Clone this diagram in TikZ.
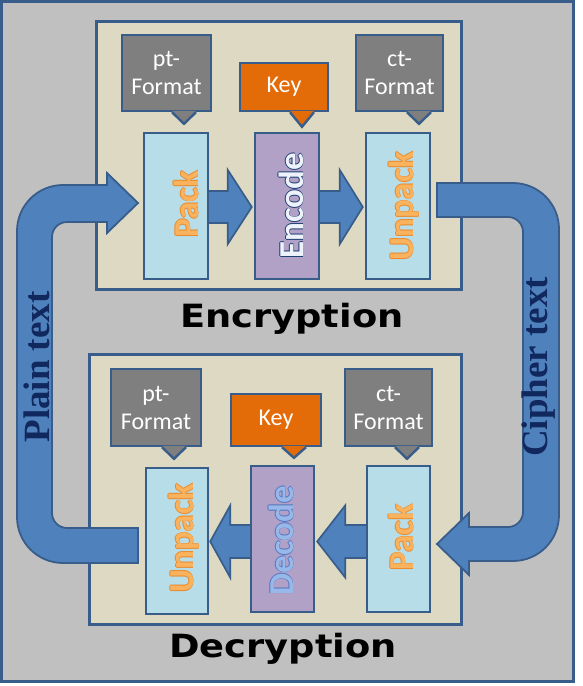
\documentclass[tikz,border=0pt]{standalone}
\usepackage{fontspec}
\usepackage{graphicx}
\setmainfont{Carlito}
\newfontfamily\titlefont{DejaVu Sans}
\newfontfamily\labfont{Liberation Serif}
\usetikzlibrary{calc}
\pgfdeclarelayer{back}
\pgfdeclarelayer{mid}
\pgfsetlayers{back,mid,main}

\definecolor{bgray}{HTML}{C0C0C0}
\definecolor{bline}{HTML}{385D8A}
\definecolor{tan}{HTML}{DDD9C3}
\definecolor{cgray}{HTML}{7F7F7F}
\definecolor{korange}{HTML}{E36C09}
\definecolor{lblue}{HTML}{B7DDE8}
\definecolor{purp}{HTML}{B2A1C7}
\definecolor{afill}{HTML}{4F81BD}
\definecolor{navy}{HTML}{10285E}
\definecolor{otxt}{HTML}{F9B25E}
\definecolor{otxtd}{HTML}{EA8A2C}
\definecolor{etxt}{HTML}{EEF3FB}
\definecolor{etxtd}{HTML}{1F3F74}
\definecolor{dtxt}{HTML}{98B8EA}
\definecolor{dtxtd}{HTML}{5277C0}

\newcommand\rarrow[5]{%
  \draw[barrow] let \p1=([yshift=#5]#1.east), \p2=(#2.west) in
   (\x1-4pt,\y1+16pt) -- (\x2-#4-#3,\y1+16pt) -- (\x2-#4-#3,\y1+37pt) --
   (\x2-#4,\y1) -- (\x2-#4-#3,\y1-37pt) -- (\x2-#4-#3,\y1-16pt) --
   (\x1-4pt,\y1-16pt) -- cycle;}
\newcommand\larrow[5]{%
  \draw[barrow] let \p1=([yshift=#5]#1.west), \p2=(#2.east) in
   (\x1+4pt,\y1+16.5pt) -- (\x2+#4+#3,\y1+16.5pt) -- (\x2+#4+#3,\y1+36pt) --
   (\x2+#4,\y1) -- (\x2+#4+#3,\y1-36pt) -- (\x2+#4+#3,\y1-16.5pt) --
   (\x1+4pt,\y1-16.5pt) -- cycle;}
\newcommand\callptr[3]{%
  \fill[#3] let \p1=(#1.south), \p2=#2 in
   (\x2-12pt,\y1+1.4pt) -- (\x2,\y2) -- (\x2+12pt,\y1+1.4pt) -- cycle;
  \draw[draw=bline, line width=2.4pt] let \p1=(#1.south), \p2=#2 in
   (\x2-12pt,\y1) -- (\x2,\y2) -- (\x2+12pt,\y1);}
\newcommand\vlabel[6]{%
  \node[vtext,text=#5] (#1a) at ($#2+(#6,0)$) {#3};
  \node[vtext,text=#5] (#1b) at ($#2+(-#6,0)$) {#3};
  \node[vtext,text=#5] (#1c) at ($#2+(0,#6)$) {#3};
  \node[vtext,text=#5] (#1d) at ($#2+(0,-#6)$) {#3};
  \node[vtext,text=#4] (#1) at #2 {#3};}

\begin{document}
\begin{tikzpicture}[x=1pt,y=-1pt,
  panel/.style={draw=bline, line width=2.7pt, fill=tan, inner sep=0pt},
  procbox/.style={draw=bline, line width=2.4pt, inner sep=0pt, minimum height=146pt},
  callbox/.style={draw=bline, line width=2.4pt, inner sep=0pt, text=white, align=center,
    font=\fontsize{24}{28}\selectfont},
  barrow/.style={draw=bline, line width=1.7pt, fill=afill, line join=miter},
  bigarrow/.style={draw=bline, line width=1.8pt, fill=afill, line join=miter},
  vtext/.style={rotate=90, anchor=base, inner sep=0pt, font=\bfseries\fontsize{35}{40}\selectfont},
  sidelabel/.style={rotate=90, inner sep=0pt, text=navy, font=\labfont\bfseries\fontsize{37}{40}\selectfont},
  titletext/.style={anchor=base, inner sep=0pt, font=\titlefont\bfseries\fontsize{32}{36}\selectfont}]
\useasboundingbox (0,0) rectangle (582,686);

\begin{pgfonlayer}{back}
\fill[white] (0,0) rectangle (582,686);
\draw[line width=3pt, draw=bline, fill=bgray] (1.5,1.5) rectangle (573.5,681.5);
\node[panel, minimum width=365pt, minimum height=268pt] (encpanel) at (279,155.5) {};
\node[panel, minimum width=372pt, minimum height=270pt] (decpanel) at (275.5,489.5) {};
\end{pgfonlayer}

% process boxes
\node[procbox, fill=lblue, minimum width=64pt] (epack) at (176,206) {};
\node[procbox, fill=purp,  minimum width=64pt] (eenc)  at (287,206) {};
\node[procbox, fill=lblue, minimum width=64pt] (eunp)  at (398,206) {};
\node[procbox, fill=lblue, minimum width=62pt] (dunp)  at (177,541) {};
\node[procbox, fill=purp,  minimum width=63pt] (ddec)  at (282.5,539) {};
\node[procbox, fill=lblue, minimum width=63pt] (dpack) at (398.5,539) {};

\begin{pgfonlayer}{mid}
\rarrow{epack}{eenc}{24pt}{2pt}{-1pt}
\rarrow{eenc}{eunp}{23pt}{2pt}{-1pt}
\larrow{ddec}{dunp}{20pt}{1pt}{-2.5pt}
\larrow{dpack}{ddec}{28pt}{2pt}{-2.5pt}
% plain text loop
\draw[bigarrow] (138,203) -- (107,233) -- (107,222) -- (67,222)
  arc[start angle=90, end angle=180, radius=15pt] -- (52,513)
  arc[start angle=180, end angle=270, radius=15pt] -- (138,528) -- (138,563) -- (63,563)
  arc[start angle=270, end angle=180, radius=46pt] -- (17,231)
  arc[start angle=180, end angle=90, radius=46pt] -- (107,185) -- (107,173) -- cycle;
% cipher text loop
\draw[bigarrow] (437,183) -- (513,183)
  arc[start angle=90, end angle=0, radius=46pt] -- (559,515)
  arc[start angle=0, end angle=-90, radius=46pt] -- (469,561) -- (469,575) -- (437,544)
  -- (469,513) -- (469,527) -- (508,527)
  arc[start angle=-90, end angle=0, radius=15pt] -- (523,232)
  arc[start angle=0, end angle=90, radius=15pt] -- (437,217) -- cycle;
\end{pgfonlayer}

% callouts
\node[callbox, fill=cgray, minimum width=89pt, minimum height=76pt] (ept) at (166.5,73) {pt-\\Format};
\node[callbox, fill=korange, minimum width=88pt, minimum height=48pt] (ekey) at (284,87) {Key};
\node[callbox, fill=cgray, minimum width=87pt, minimum height=76pt] (ect) at (399.5,73) {ct-\\Format};
\node[callbox, fill=cgray, minimum width=90pt, minimum height=77pt] (dpt) at (156,407.5) {pt-\\Format};
\node[callbox, fill=korange, minimum width=90pt, minimum height=52pt] (dkey) at (276,420) {Key};
\node[callbox, fill=cgray, minimum width=87pt, minimum height=77pt] (dct) at (388.5,407.5) {ct-\\Format};
\callptr{ept}{([xshift=8pt,yshift=8pt]epack.north)}{cgray}
\callptr{ekey}{([xshift=15pt,yshift=5pt]eenc.north)}{korange}
\callptr{ect}{([xshift=21pt,yshift=8pt]eunp.north)}{cgray}
\callptr{dpt}{([xshift=-3pt,yshift=8pt]dunp.north)}{cgray}
\callptr{dkey}{([xshift=11.5pt,yshift=7pt]ddec.north)}{korange}
\callptr{dct}{([xshift=8.5pt,yshift=6pt]dpack.north)}{cgray}

% vertical box labels
\vlabel{tepack}{(198,204)}{Pack}{otxt}{otxtd}{0.8}
\vlabel{teenc}{(303,206)}{Encode}{etxt}{etxtd}{0.9}
\vlabel{teunp}{(413,206)}{Unpack}{otxt}{otxtd}{0.8}
\vlabel{tdunp}{(193,538)}{Unpack}{otxt}{otxtd}{0.8}
\vlabel{tddec}{(293,540.5)}{Decode}{dtxt}{dtxtd}{0.8}
\vlabel{tdpack}{(413,537.5)}{Pack}{otxt}{otxtd}{0.8}

% loop labels
\node[sidelabel] (plain) at (37,367) {Plain text};
\node[sidelabel] (cipher) at (539,367) {Cipher text};

% titles
\node[titletext] (enctitle) at (292,327) {\scalebox{1.15}[1]{Encryption}};
\node[titletext] (dectitle) at (283,657) {\scalebox{1.15}[1]{Decryption}};
\end{tikzpicture}
\end{document}
